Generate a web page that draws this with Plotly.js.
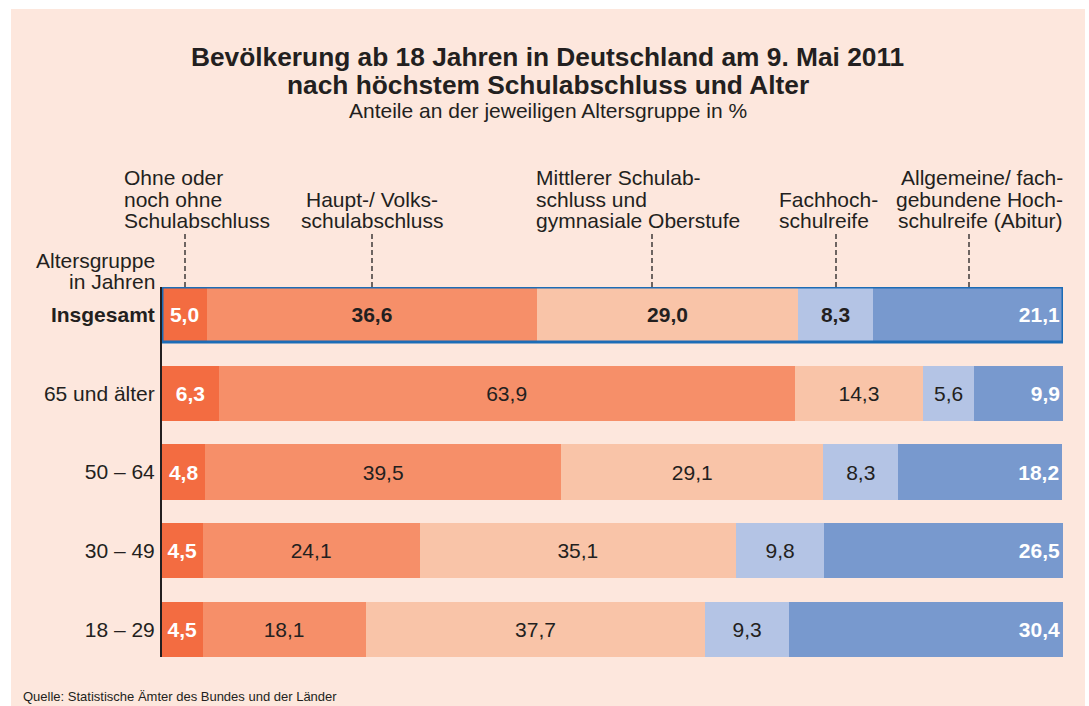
<!DOCTYPE html>
<html>
<head>
<meta charset="utf-8">
<script src="https://cdn.plot.ly/plotly-3.0.1.min.js"></script>
<style>
  html, body { margin: 0; padding: 0; background: #ffffff; }
  #chart { position: absolute; left: 11px; top: 9px; width: 1074px; height: 697px; }
</style>
</head>
<body>
<div id="chart"></div>
<script>
// ---- Data ----
const categories = ['Insgesamt', '65 und älter', '50 – 64', '30 – 49', '18 – 29'];
const ohneAbschluss = [5.0, 6.3, 4.8, 4.5, 4.5];
const hauptVolks = [36.6, 63.9, 39.5, 24.1, 18.1];
const mittlerer = [29.0, 14.3, 29.1, 35.1, 37.7];
const fachhochschulreife = [8.3, 5.6, 8.3, 9.8, 9.3];
const abitur = [21.1, 9.9, 18.2, 26.5, 30.4];

const seriesNames = [
  'Ohne oder noch ohne Schulabschluss',
  'Haupt-/ Volksschulabschluss',
  'Mittlerer Schulabschluss und gymnasiale Oberstufe',
  'Fachhochschulreife',
  'Allgemeine/ fachgebundene Hochschulreife (Abitur)'
];

// ---- Styles ----
const FONT = 'Liberation Sans, Arial, Helvetica, sans-serif';
const DARK = '#231f20';
const BG = '#fde7dd';
const colors = ['#f36c41', '#f68f69', '#f9c4a8', '#b4c4e5', '#7899ce'];
const textColors = ['#ffffff', DARK, DARK, DARK, '#ffffff'];
const alwaysBold = [true, false, false, false, true];
const anchors = ['middle', 'middle', 'middle', 'middle', 'end'];

const fmt = v => v.toFixed(1).replace('.', ',');

const allSeries = [ohneAbschluss, hauptVolks, mittlerer, fachhochschulreife, abitur];

const traces = allSeries.map((vals, s) => ({
  type: 'bar',
  orientation: 'h',
  name: seriesNames[s],
  y: categories,
  x: vals,
  marker: { color: colors[s], line: { width: 0 } },
  text: vals.map((v, i) => (alwaysBold[s] || i === 0) ? '<b>' + fmt(v) + '</b>' : fmt(v)),
  textposition: 'inside',
  insidetextanchor: anchors[s],
  textangle: 0,
  constraintext: 'none',
  insidetextfont: { family: FONT, size: 21, color: textColors[s] },
  hoverinfo: 'skip'
}));

// ---- layout helpers (pixel -> paper, page coordinates) ----
const PL = 162, PR = 1063, PT = 287, PB = 657;
const px = X => (X - PL) / (PR - PL);
const py = Y => (PB - Y) / (PB - PT);

function ann(text, X, Y, xanchor, font) {
  return {
    xref: 'paper', yref: 'paper', x: px(X), y: py(Y),
    xanchor: xanchor, yanchor: 'middle', showarrow: false,
    text: text, borderpad: 0, borderwidth: 0,
    font: Object.assign({ family: FONT, size: 21, color: DARK }, font || {})
  };
}

const annotations = [
  ann('<b>Bevölkerung ab 18 Jahren in Deutschland am 9. Mai 2011</b>', 547.5, 57, 'center', { size: 26.3 }),
  ann('<b>nach höchstem Schulabschluss und Alter</b>', 547.5, 85, 'center', { size: 26.3 }),
  ann('Anteile an der jeweiligen Altersgruppe in %', 547.5, 110, 'center', { size: 21 }),

  ann('Ohne oder', 124, 178, 'left'),
  ann('noch ohne', 124, 199, 'left'),
  ann('Schulabschluss', 124, 220, 'left'),

  ann('Haupt-/ Volks-', 372, 199, 'center'),
  ann('schulabschluss', 372, 220, 'center'),

  ann('Mittlerer Schulab-', 536, 178, 'left'),
  ann('schluss und', 536, 199, 'left'),
  ann('gymnasiale Oberstufe', 536, 220, 'left'),

  ann('Fachhoch-', 779, 199, 'left'),
  ann('schulreife', 779, 220, 'left'),

  ann('Allgemeine/ fach-', 1063, 178, 'right'),
  ann('gebundene Hoch-', 1063, 199, 'right'),
  ann('schulreife (Abitur)', 1063, 220, 'right'),

  ann('Altersgruppe', 155, 260, 'right'),
  ann('in Jahren', 155, 281, 'right'),

  ann('Quelle: Statistische Ämter des Bundes und der Länder', 23, 696, 'left', { size: 13 })
];

const dashX = [185, 372, 652, 836, 969];
const shapes = dashX.map(X => ({
  type: 'line', xref: 'paper', yref: 'paper',
  x0: px(X), x1: px(X), y0: py(234), y1: py(287),
  line: { color: DARK, width: 1.3, dash: '5px,3px' }
}));

// Frame around the "Insgesamt" bar (spans the full stacked total of row 0)
const totalRow0 = allSeries.reduce((a, arr) => a + arr[0], 0);
shapes.push({
  type: 'rect', xref: 'x', yref: 'y',
  x0: 0, x1: totalRow0, y0: -0.35, y1: 0.35,
  line: { color: '#1c6cb6', width: 3 }, fillcolor: 'rgba(0,0,0,0)', layer: 'above'
});

const layout = {
  width: 1074, height: 697,
  margin: { l: 151, r: 22, t: 278, b: 49, pad: 0 },
  paper_bgcolor: BG,
  plot_bgcolor: BG,
  barmode: 'stack',
  bargap: 0.3,
  showlegend: false,
  font: { family: FONT, size: 21, color: DARK },
  xaxis: { range: [0, 100], visible: false, fixedrange: true },
  yaxis: {
    type: 'category',
    range: [4.35, -0.35],
    tickvals: categories,
    ticktext: categories.map((c, i) => i === 0 ? '<b>' + c + '</b>' : c),
    ticks: '',
    ticklabelstandoff: 1,
    showline: true, linecolor: DARK, linewidth: 2,
    showgrid: false, zeroline: false,
    tickfont: { family: FONT, size: 21, color: DARK },
    fixedrange: true
  },
  annotations: annotations,
  shapes: shapes
};

Plotly.newPlot('chart', traces, layout, { staticPlot: true, displayModeBar: false });
</script>
</body>
</html>
